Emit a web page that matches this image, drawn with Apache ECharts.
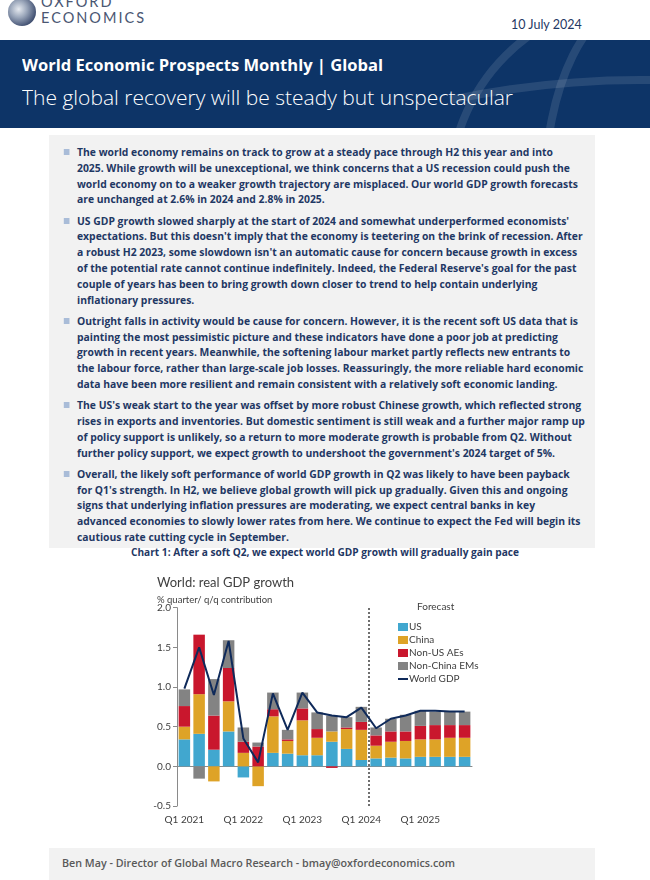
<!DOCTYPE html>
<html>
<head>
<meta charset="utf-8">
<script src="https://cdn.jsdelivr.net/npm/echarts@6/dist/echarts.min.js"></script>
<style>
  html, body { margin:0; padding:0; width:650px; height:880px; overflow:hidden; background:#fff; }
  body { position:relative; font-family:"Open Sans", sans-serif; }
  .abs { position:absolute; }
  .fit { white-space:nowrap; display:inline-block; transform-origin:left center; }
  #logoGlobe { left:8px; top:-2px; width:28px; height:28px; border-radius:50%;
    background: radial-gradient(circle at 38% 40%, #e6eaf0 0%, #9aa6ba 35%, #3d4c6e 75%, #22304f 100%); overflow:hidden; }
  #logoText { left:41px; top:-6px; font-family:"Lato", sans-serif; font-weight:400; font-size:14.5px; line-height:16px; letter-spacing:2px; color:#4a5672; }
  #date { left:511px; top:17px; font-family:"Lato", sans-serif; font-size:12.5px; color:#1f3864; }
  #banner { left:0; top:40px; width:650px; height:88px; background:#0d3467; overflow:hidden; }
  #bt1 { left:22px; top:14px; font-weight:700; font-size:16px; color:#fff; }
  #bt2 { left:22px; top:43px; font-weight:300; font-size:21px; color:#fff; }
  #box { left:49px; top:135px; width:546px; height:413px; background:#f2f2f2; }
  #text { left:77px; top:144px; font-weight:700; font-size:11px; line-height:15.8px; color:#1f3864; transform-origin:left top; }
  #text p { margin:0 0 5.4px 0; position:relative; white-space:nowrap; }
  #text p::before { content:""; position:absolute; left:-14px; top:5px; width:6px; height:6px; background:#a9bcd8; }
  #chartHead { left:131px; top:545px; font-weight:700; font-size:10.5px; color:#1f3864; }
  #chart { left:0; top:565px; width:650px; height:275px; }
  #foot { left:49px; top:848px; width:546px; height:32px; background:#f2f2f2; }
  #footText { left:62px; top:856px; font-weight:600; font-size:10.5px; color:#595959; }
</style>
</head>
<body>
<div id="logoGlobe" class="abs"></div>
<div id="logoText" class="abs">OXFORD<br>ECONOMICS</div>
<div id="date" class="abs">10 July 2024</div>

<div id="banner" class="abs">
  <svg class="abs" style="left:0;top:0" width="650" height="88">
    <g fill="none" stroke="rgba(255,255,255,0.11)" stroke-width="8">
      <circle cx="640" cy="150" r="190"/>
      <ellipse cx="640" cy="150" rx="95" ry="190"/>
      <path d="M450 60 Q640 20 830 60"/>
      <path d="M455 110 Q640 80 825 110"/>
    </g>
  </svg>
  <div id="bt1" class="abs fit" data-w="361">World Economic Prospects Monthly | Global</div>
  <div id="bt2" class="abs fit" data-w="491">The global recovery will be steady but unspectacular</div>
</div>

<div id="box" class="abs"></div>
<div id="text" class="abs">
  <p><span id="refLine">The world economy remains on track to grow at a steady pace through H2 this year and into</span><br>2025. While growth will be unexceptional, we think concerns that a US recession could push the<br>world economy on to a weaker growth trajectory are misplaced. Our world GDP growth forecasts<br>are unchanged at 2.6% in 2024 and 2.8% in 2025.</p>
  <p>US GDP growth slowed sharply at the start of 2024 and somewhat underperformed economists'<br>expectations. But this doesn't imply that the economy is teetering on the brink of recession. After<br>a robust H2 2023, some slowdown isn't an automatic cause for concern because growth in excess<br>of the potential rate cannot continue indefinitely. Indeed, the Federal Reserve's goal for the past<br>couple of years has been to bring growth down closer to trend to help contain underlying<br>inflationary pressures.</p>
  <p>Outright falls in activity would be cause for concern. However, it is the recent soft US data that is<br>painting the most pessimistic picture and these indicators have done a poor job at predicting<br>growth in recent years. Meanwhile, the softening labour market partly reflects new entrants to<br>the labour force, rather than large-scale job losses. Reassuringly, the more reliable hard economic<br>data have been more resilient and remain consistent with a relatively soft economic landing.</p>
  <p>The US's weak start to the year was offset by more robust Chinese growth, which reflected strong<br>rises in exports and inventories. But domestic sentiment is still weak and a further major ramp up<br>of policy support is unlikely, so a return to more moderate growth is probable from Q2. Without<br>further policy support, we expect growth to undershoot the government's 2024 target of 5%.</p>
  <p>Overall, the likely soft performance of world GDP growth in Q2 was likely to have been payback<br>for Q1's strength. In H2, we believe global growth will pick up gradually. Given this and ongoing<br>signs that underlying inflation pressures are moderating, we expect central banks in key<br>advanced economies to slowly lower rates from here. We continue to expect the Fed will begin its<br>cautious rate cutting cycle in September.</p>
</div>

<div id="chartHead" class="abs fit" data-w="388">Chart 1: After a soft Q2, we expect world GDP growth will gradually gain pace</div>
<div id="chart" class="abs"></div>

<div id="foot" class="abs"></div>
<div id="footText" class="abs fit" data-w="393">Ben May - Director of Global Macro Research - bmay@oxfordeconomics.com</div>

<script>
// ---------------- chart data ----------------
const categories = ['Q1 2021','Q2 2021','Q3 2021','Q4 2021','Q1 2022','Q2 2022','Q3 2022','Q4 2022',
                    'Q1 2023','Q2 2023','Q3 2023','Q4 2023','Q1 2024','Q2 2024','Q3 2024','Q4 2024',
                    'Q1 2025','Q2 2025','Q3 2025','Q4 2025'];
const usValues      = [0.34, 0.41, 0.21, 0.44, -0.14, 0.00, 0.17, 0.16, 0.14, 0.14, 0.31, 0.22, 0.08, 0.10, 0.11, 0.10, 0.12, 0.12, 0.12, 0.12];
const chinaValues   = [0.16, 0.50, -0.19, 0.38, 0.17, -0.25, 0.46, 0.16, 0.44, 0.22, 0.13, 0.25, 0.38, 0.16, 0.20, 0.22, 0.22, 0.22, 0.24, 0.24];
const nonUsAeValues = [0.26, 0.75, 0.43, 0.42, 0.14, 0.25, 0.09, 0.02, 0.15, 0.11, -0.02, 0.02, 0.10, 0.13, 0.13, 0.12, 0.17, 0.18, 0.16, 0.16];
const nonChinaEmValues = [0.21, -0.155, 0.46, 0.35, 0.18, 0.05, 0.21, 0.12, 0.20, 0.21, 0.20, 0.13, 0.19, 0.10, 0.16, 0.21, 0.19, 0.17, 0.17, 0.17];
const worldGdpValues = [0.98, 1.50, 0.90, 1.58, 0.35, 0.05, 0.92, 0.46, 0.93, 0.68, 0.64, 0.62, 0.74, 0.48, 0.60, 0.64, 0.70, 0.70, 0.69, 0.69];
const seriesNames = ['US', 'China', 'Non-US AEs', 'Non-China EMs', 'World GDP'];
const forecastStart = 'Q2 2024';
const yAxisMin = -0.5, yAxisMax = 2.0, yAxisStep = 0.5;

// ---------------- text fitting ----------------
document.querySelectorAll('.fit').forEach(el => {
  const w = el.getBoundingClientRect().width;
  const t = parseFloat(el.dataset.w);
  if (w > 0 && t) el.style.transform = 'scaleX(' + (t / w) + ')';
});
(function () {
  const ref = document.getElementById('refLine');
  const w = ref.getBoundingClientRect().width;
  if (w > 0) document.getElementById('text').style.transform = 'scaleX(' + (476 / w) + ')';
})();

// ---------------- chart ----------------
const chart = echarts.init(document.getElementById('chart'), null, { renderer: 'canvas' });
const colors = ['#41a7cf', '#dea327', '#c9172d', '#838383', '#0f2a5a'];
const barSets = [usValues, chinaValues, nonUsAeValues, nonChinaEmValues];
const fIdx = categories.indexOf(forecastStart);
const font = 'Lato';

const barSeries = barSets.map((vals, i) => ({
  name: seriesNames[i],
  type: 'bar',
  stack: 'contrib',
  barCategoryGap: '22%',
  itemStyle: { color: colors[i] },
  data: vals
}));

chart.setOption({
  animation: false,
  textStyle: { fontFamily: font },
  title: [
    { text: 'World: real GDP growth', left: 152, top: 6,
      textStyle: { fontSize: 13, fontWeight: 'normal', color: '#404040', fontFamily: font } },
    { text: '% quarter/ q/q contribution', left: 152, top: 25,
      textStyle: { fontSize: 9.5, fontWeight: 'normal', color: '#404040', fontFamily: font } }
  ],
  graphic: [
    { type: 'text', left: 417, top: 37,
      style: { text: 'Forecast', fontSize: 10, fill: '#404040', fontFamily: font } }
  ],
  legend: {
    orient: 'vertical', left: 393, top: 52,
    itemWidth: 10, itemHeight: 8, itemGap: 3,
    textStyle: { fontSize: 10, color: '#404040', fontFamily: font, padding: [0, 0, 0, -4] },
    data: [
      { name: 'US', icon: 'rect' },
      { name: 'China', icon: 'rect' },
      { name: 'Non-US AEs', icon: 'rect' },
      { name: 'Non-China EMs', icon: 'rect' },
      { name: 'World GDP', icon: 'path://M0,0H10V2H0Z' }
    ]
  },
  grid: { left: 177, right: 178, top: 42.7, bottom: 34, outerBoundsMode: 'none', containLabel: false },
  xAxis: [
    {
      type: 'category', data: categories,
      axisLine: { onZero: true, lineStyle: { color: '#8a8a8a', width: 1 } },
      axisTick: { interval: 0, length: 4, lineStyle: { color: '#8a8a8a' } },
      axisLabel: { interval: 3, margin: 9, fontSize: 10, color: '#404040', fontFamily: font }
    },
    { type: 'value', min: 0, max: categories.length, show: false }
  ],
  yAxis: {
    type: 'value', min: yAxisMin, max: yAxisMax, interval: yAxisStep,
    axisLine: { show: true, lineStyle: { color: '#8a8a8a' } },
    axisTick: { show: true, length: 4, lineStyle: { color: '#8a8a8a' } },
    splitLine: { show: false },
    axisLabel: { formatter: v => v.toFixed(1), fontSize: 10, color: '#404040', margin: 6, fontFamily: font }
  },
  series: barSeries.concat([
    {
      name: 'World GDP', type: 'line', data: worldGdpValues,
      symbol: 'none', z: 5,
      lineStyle: { color: colors[4], width: 2 }, itemStyle: { color: colors[4] }
    },
    {
      name: 'forecastMarker', type: 'line', xAxisIndex: 1, data: [],
      markLine: {
        silent: true, symbol: 'none', label: { show: false },
        lineStyle: { type: [2, 2], color: '#404040', width: 1.5 },
        data: [{ xAxis: fIdx }]
      }
    }
  ])
});
</script>
</body>
</html>
